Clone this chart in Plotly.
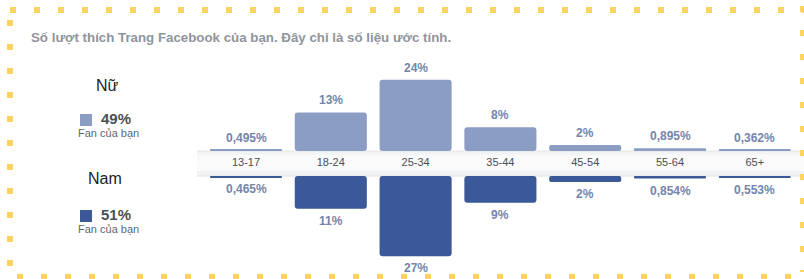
import plotly.graph_objects as go

# ---- data ----
age_groups = ["13-17", "18-24", "25-34", "35-44", "45-54", "55-64", "65+"]
female_pct = [0.495, 13, 24, 8, 2, 0.895, 0.362]
male_pct = [0.465, 11, 27, 9, 2, 0.854, 0.553]
female_total = 49
male_total = 51
title_text = "Số lượt thích Trang Facebook của bạn. Đây chỉ là số liệu ước tính."
female_name = "Nữ"
male_name = "Nam"
fan_label = "Fan của bạn"

# ---- style / geometry ----
W, H = 804, 279
FEMALE_C = "#8b9dc3"
MALE_C = "#3b5998"
LABEL_C = "#7385ab"
DOT_C = "#fdd35f"
FONT = "Liberation Sans, Arial, sans-serif"

PX_PER_PCT = 2.97
BAND_TOP_PX, BAND_BOT_PX = 151, 176
band_center_px = (BAND_TOP_PX + BAND_BOT_PX) / 2
gap = (BAND_BOT_PX - BAND_TOP_PX) / 2 / PX_PER_PCT
y_top = band_center_px / PX_PER_PCT
y_bot = -(H - band_center_px) / PX_PER_PCT

CAT_SPACING = 84.8
FIRST_CENTER = 246
x0 = -FIRST_CENTER / CAT_SPACING
x1 = x0 + W / CAT_SPACING


def fmt(v):
    if v >= 1:
        return f"{v:.0f}%"
    return f"{v:.3f}%".replace(".", ",")


fig = go.Figure()
fig.add_trace(go.Bar(x=age_groups, y=female_pct, base=[gap] * len(female_pct),
                     marker=dict(color=FEMALE_C, line=dict(width=0)), width=0.85,
                     hoverinfo="skip", showlegend=False))
fig.add_trace(go.Bar(x=age_groups, y=[-v for v in male_pct], base=[-gap] * len(male_pct),
                     marker=dict(color=MALE_C, line=dict(width=0)), width=0.85,
                     hoverinfo="skip", showlegend=False))
fig.add_trace(go.Scatter(x=age_groups, y=[0] * len(age_groups), mode="text",
                         text=age_groups, textposition="middle center",
                         textfont=dict(family=FONT, size=11, color="#4b4f56"),
                         hoverinfo="skip", showlegend=False))

annotations = []
for cat, v in zip(age_groups, female_pct):
    annotations.append(dict(x=cat, y=gap + v, xref="x", yref="y", text=fmt(v),
                            showarrow=False, yshift=12, xanchor="center",
                            font=dict(family=FONT, size=12, color=LABEL_C, weight="bold")))
for cat, v in zip(age_groups, male_pct):
    annotations.append(dict(x=cat, y=-gap - v, xref="x", yref="y", text=fmt(v),
                            showarrow=False, yshift=-12, xanchor="center",
                            font=dict(family=FONT, size=12, color=LABEL_C, weight="bold")))


def px(xp):
    return xp / W


def py(yp):
    return 1 - yp / H


annotations += [
    dict(x=px(29), y=py(37), xref="paper", yref="paper", xanchor="left", yanchor="middle",
         text=title_text, showarrow=False,
         font=dict(family=FONT, size=13.3, color="#90949c", weight="bold")),
    dict(x=px(107), y=py(85), xref="paper", yref="paper", xanchor="center", yanchor="middle",
         text=female_name, showarrow=False,
         font=dict(family=FONT, size=16, color="#1d2129")),
    dict(x=px(99), y=py(119), xref="paper", yref="paper", xanchor="left", yanchor="middle",
         text=f"{female_total}%",
         showarrow=False, font=dict(family=FONT, size=15, color="#4b4f56", weight="bold")),
    dict(x=px(108), y=py(133), xref="paper", yref="paper", xanchor="center", yanchor="middle",
         text=fan_label, showarrow=False,
         font=dict(family=FONT, size=11, color="#606770")),
    dict(x=px(105), y=py(178), xref="paper", yref="paper", xanchor="center", yanchor="middle",
         text=male_name, showarrow=False,
         font=dict(family=FONT, size=16, color="#1d2129")),
    dict(x=px(99), y=py(215), xref="paper", yref="paper", xanchor="left", yanchor="middle",
         text=f"{male_total}%",
         showarrow=False, font=dict(family=FONT, size=15, color="#4b4f56", weight="bold")),
    dict(x=px(108), y=py(229), xref="paper", yref="paper", xanchor="center", yanchor="middle",
         text=fan_label, showarrow=False,
         font=dict(family=FONT, size=11, color="#606770")),
]

shapes = [
    # category band
    dict(type="rect", xref="paper", yref="y", x0=px(197), x1=1, y0=-gap, y1=gap,
         fillcolor="#f2f3f5", line=dict(width=0), layer="below"),
    dict(type="rect", xref="paper", yref="y", x0=px(197), x1=1, y0=-gap * 0.6, y1=gap * 0.7,
         fillcolor="#fafafb", line=dict(width=0), layer="below"),
    dict(type="line", xref="paper", yref="y", x0=px(197), x1=1, y0=gap, y1=gap,
         line=dict(color="#e4e5e8", width=1), layer="below"),
    dict(type="line", xref="paper", yref="y", x0=px(197), x1=1, y0=-gap, y1=-gap,
         line=dict(color="#dfe0e4", width=1), layer="below"),
    # legend squares
    dict(type="rect", xref="paper", yref="paper", x0=px(80), x1=px(92), y0=py(126), y1=py(114),
         fillcolor=FEMALE_C, line=dict(width=0)),
    dict(type="rect", xref="paper", yref="paper", x0=px(80), x1=px(92), y0=py(222), y1=py(210),
         fillcolor=MALE_C, line=dict(width=0)),
    # dotted decorative border
    dict(type="line", xref="paper", yref="paper", x0=px(10), x1=1.02, y0=py(10), y1=py(10),
         line=dict(color=DOT_C, width=6, dash="6px,18px")),
    dict(type="line", xref="paper", yref="paper", x0=px(10), x1=px(10), y0=py(20), y1=py(272),
         line=dict(color=DOT_C, width=6, dash="6px,18px")),
    dict(type="line", xref="paper", yref="paper", x0=px(17), x1=1.02, y0=py(277), y1=py(277),
         line=dict(color=DOT_C, width=6, dash="6px,18px")),
    dict(type="line", xref="paper", yref="paper", x0=px(803), x1=px(803), y0=py(6), y1=py(272),
         line=dict(color=DOT_C, width=6, dash="6px,18px")),
]

fig.update_layout(
    width=W, height=H,
    margin=dict(l=0, r=0, t=0, b=0),
    paper_bgcolor="white", plot_bgcolor="white",
    barmode="overlay", barcornerradius=3,
    xaxis=dict(range=[x0, x1], visible=False, type="category",
               categoryorder="array", categoryarray=age_groups, fixedrange=True),
    yaxis=dict(range=[y_bot, y_top], visible=False, fixedrange=True),
    annotations=annotations, shapes=shapes,
    showlegend=False,
)

fig.write_html("out.html", config={"displayModeBar": False},
               post_script="document.body.style.margin='0';document.body.style.overflow='hidden';")
